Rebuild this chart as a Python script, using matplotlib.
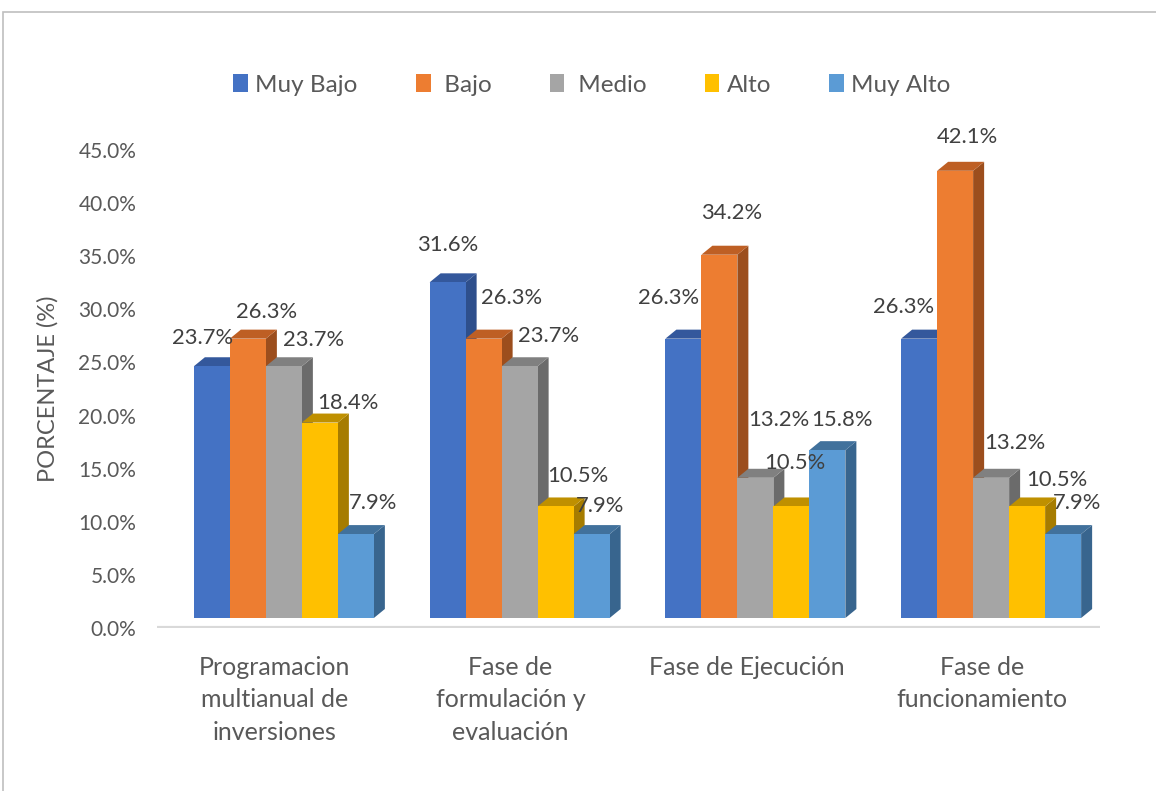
import matplotlib.pyplot as plt
from matplotlib.patches import Rectangle, Polygon
from matplotlib.transforms import ScaledTranslation
import numpy as np

plt.rcParams['font.family'] = ['Lato', 'DejaVu Sans']

# datos
categorias = ['Programacion\nmultianual de\ninversiones',
              'Fase de\nformulación y\nevaluación',
              'Fase de Ejecución',
              'Fase de\nfuncionamiento']
niveles = ['Muy Bajo', ' Bajo', ' Medio', 'Alto', 'Muy Alto']
muy_bajo = [23.7, 31.6, 26.3, 26.3]
bajo = [26.3, 26.3, 34.2, 42.1]
medio = [23.7, 23.7, 13.2, 13.2]
alto = [18.4, 10.5, 10.5, 10.5]
muy_alto = [7.9, 7.9, 15.8, 7.9]
series = [muy_bajo, bajo, medio, alto, muy_alto]

# colores: frente, techo, lado
frente = ['#4472C4', '#ED7D31', '#A5A5A5', '#FFC000', '#5B9BD5']
techo = ['#34589C', '#BE5F24', '#808080', '#BF9000', '#41719C']
lado = ['#2E4F8C', '#9C4E1D', '#6B6B6B', '#A67C00', '#38658E']

# desplazamiento de etiquetas (px) respecto al centro superior de cada barra
etq_off = [
    [(-9, 28), (0, 37), (-15, 41), (-16, 32)],
    [(19, 27), (28, 41), (12, 42), (12, 34)],
    [(30, 26), (29, 30), (23, 58), (24, 35)],
    [(28, 20), (22, 30), (3, 43), (30, 26)],
    [(17, 31), (8, 28), (15, 30), (14, 31)],
]

W, H = 1156, 791
fig = plt.figure(figsize=(W / 100, H / 100), dpi=100)
ax = fig.add_axes([157 / W, (H - 628) / H, 943 / W, 478 / H])
ax.set_xlim(-0.5, 3.5)
ax.set_ylim(0, 45)

# borde del grafico
fig.patches.append(Rectangle((3 / W, -0.1), 1.2, (H - 12) / H + 0.1,
                             transform=fig.transFigure, fill=False,
                             edgecolor='#BFBFBF', lw=1.2))

# escala px por unidad
px_x = 943 / 4
px_y = 478 / 45
dx, dy = 11, 9          # profundidad 3D en px
ox, oy = 9, 10          # cara frontal respecto al piso
w = 36 / px_x
off = ScaledTranslation(ox / 100, oy / 100, fig.dpi_scale_trans)
tr = ax.transData + off

# piso
ax.plot([-0.5, 3.5], [0, 0], color='#D9D9D9', lw=3, solid_capstyle='butt', zorder=1)

x = np.arange(len(categorias))
for i in range(len(categorias)):
    for j, s in enumerate(series):
        v = s[i]
        x0 = x[i] - 2.5 * w + j * w
        ddx = dx / px_x
        ddy = dy / px_y
        top = [(x0, v), (x0 + w, v), (x0 + w + ddx, v + ddy), (x0 + ddx, v + ddy)]
        side = [(x0 + w, 0), (x0 + w + ddx, ddy), (x0 + w + ddx, v + ddy), (x0 + w, v)]
        ax.add_patch(Polygon(side, closed=True, facecolor=lado[j], edgecolor='none',
                             transform=tr, zorder=2))
        ax.add_patch(Polygon(top, closed=True, facecolor=techo[j], edgecolor='none',
                             transform=tr, zorder=2))
        ax.add_patch(Rectangle((x0, 0), w, v, facecolor=frente[j], edgecolor='none',
                               transform=tr, zorder=2))
        ex, ey = etq_off[j][i]
        t = ScaledTranslation((ox + ex) / 100, (oy + ey) / 100, fig.dpi_scale_trans)
        ax.text(x0 + w / 2, v, f'{v:.1f}%', transform=ax.transData + t,
                ha='center', va='center', fontsize=15.8, color='#404040', zorder=5)

ax.set_yticks(np.arange(0, 46, 5))
ax.set_yticklabels([f'{t:.1f}%' for t in np.arange(0, 46, 5)])
ax.set_xticks(x)
ax.set_xticklabels(categorias, linespacing=1.5)
ax.tick_params(axis='y', length=0, pad=15, labelsize=15, labelcolor='#595959')
ax.tick_params(axis='x', length=0, pad=20, labelsize=18, labelcolor='#595959')
for sp in ax.spines.values():
    sp.set_visible(False)
ax.set_ylabel('PORCENTAJE (%)', fontsize=17, color='#595959', labelpad=14)

# leyenda
handles = [Rectangle((0, 0), 1, 1, facecolor=c) for c in frente]
fig.legend(handles, niveles, loc='center', bbox_to_anchor=(592 / W, (H - 85) / H),
           ncol=5, frameon=False, fontsize=17.5, handlelength=0.6, handleheight=0.75,
           handletextpad=0.3, columnspacing=2.4, labelcolor='#595959')

fig.savefig('out.png', dpi=100)
